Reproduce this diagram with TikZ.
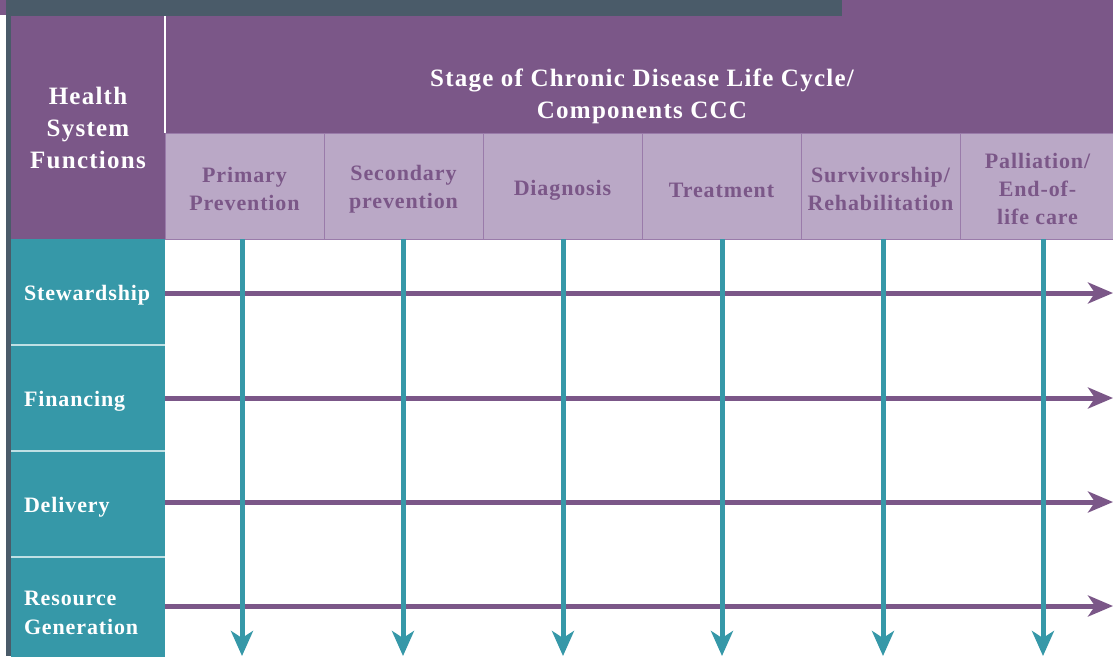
\documentclass[tikz,border=0pt]{standalone}
\usepackage{fontspec}
\setmainfont{Liberation Serif}
\newfontfamily\hfont[LetterSpace=5]{Liberation Serif}
\newfontfamily\cfont[LetterSpace=4]{Liberation Serif}
\usetikzlibrary{arrows.meta}
\definecolor{purp}{HTML}{7B5788}
\definecolor{lpurp}{HTML}{BAA8C6}
\definecolor{sep}{HTML}{9A7BAA}
\definecolor{tealc}{HTML}{3698A8}
\definecolor{tealsep}{HTML}{BFE0E4}
\definecolor{slate}{HTML}{4A5B69}
\begin{document}
\begin{tikzpicture}[x=1pt,y=-1pt,
  hdr/.style={fill=purp, text=white, inner sep=0pt, outer sep=0pt, align=center,
    font=\hfont\bfseries\fontsize{25}{32}\selectfont},
  hdrtxt/.style={text=white, inner sep=0pt, align=center,
    font=\hfont\bfseries\fontsize{25}{32}\selectfont},
  colbox/.style={fill=lpurp, draw=sep, line width=0.8pt, inner sep=0pt, outer sep=0pt,
    minimum width=159pt, minimum height=106pt},
  coltxt/.style={text=purp, inner sep=0pt, align=center,
    font=\cfont\bfseries\fontsize{22}{28}\selectfont},
  rowbox/.style={fill=tealc, inner sep=0pt, outer sep=0pt,
    minimum width=154pt, minimum height=106pt},
  rowtxt/.style={text=white, inner sep=0pt, text width=128pt, align=left,
    font=\cfont\bfseries\fontsize{22}{29}\selectfont},
  varrow/.style={draw=tealc, line width=5pt, -{Stealth[length=25pt,width=22pt,inset=7pt]}},
  harrow/.style={draw=purp, line width=5pt, -{Stealth[length=25pt,width=21pt,inset=7pt]}}
]
\useasboundingbox (0,0) rectangle (1113,656);
% header backgrounds
\fill[purp] (165,0) rectangle (1113,133);
\fill[purp] (0,0) rectangle (6,15);
\fill[slate] (6,0) rectangle (842,16);
\fill[slate] (6,16) rectangle (11,656);
% left header
\node[hdr, minimum width=154pt, minimum height=223pt] (hsf) at (88,127.5) {Health\\System\\Functions};
\draw[white, line width=1.5pt] (165,16) -- (165,133);
\node[hdrtxt] (stage) at (642,96) {Stage of Chronic Disease Life Cycle/\\Components CCC};
% column header boxes
\node[colbox] (b1) at (244.5,186) {};
\node[colbox] (b2) at (403.5,186) {};
\node[colbox] (b3) at (562.5,186) {};
\node[colbox] (b4) at (721.5,186) {};
\node[colbox] (b5) at (880.5,186) {};
\node[colbox] (b6) at (1039.5,186) {};
% column header texts
\node[coltxt] (c1) at (244.5,189) {Primary\\Prevention};
\node[coltxt] (c2) at (403.5,189) {Secondary\\prevention};
\node[coltxt] (c3) at (562.5,190) {Diagnosis};
\node[coltxt] (c4) at (721.5,190) {Treatment};
\node[coltxt] (c5) at (880.5,189) {Survivorship/\\Rehabilitation};
\node[coltxt] (c6) at (1037.5,189) {Palliation/\\End-of-\\life care};
% row boxes
\node[rowbox] (rb1) at (88,292) {};
\node[rowbox] (rb2) at (88,398) {};
\node[rowbox] (rb3) at (88,504) {};
\node[rowbox, minimum height=112pt] (rb4) at (88,613) {};
\draw[tealsep, line width=1.2pt] (rb1.south west) -- (rb1.south east);
\draw[tealsep, line width=1.2pt] (rb2.south west) -- (rb2.south east);
\draw[tealsep, line width=1.2pt] (rb3.south west) -- (rb3.south east);
% row texts
\node[rowtxt] (r1) at (88,295) {Stewardship};
\node[rowtxt] (r2) at (88,401) {Financing};
\node[rowtxt] (r3) at (88,507) {Delivery};
\node[rowtxt] (r4) at (88,613) {Resource\\Generation};
% arrow end points
\coordinate (e1) at (1113,293);
\coordinate (e2) at (1113,398);
\coordinate (e3) at (1113,502);
\coordinate (e4) at (1113,606);
\coordinate (v1) at (242,656);
\coordinate (v2) at (403,656);
\coordinate (v3) at (563,656);
\coordinate (v4) at (722,656);
\coordinate (v5) at (883,656);
\coordinate (v6) at (1043,656);
% horizontal arrows
\foreach \i in {1,...,4} \draw[harrow] (rb\i.east |- e\i) -- (e\i);
% vertical arrows
\foreach \i in {1,...,6} \draw[varrow] (b\i.south -| v\i) -- (v\i);
\end{tikzpicture}
\end{document}
